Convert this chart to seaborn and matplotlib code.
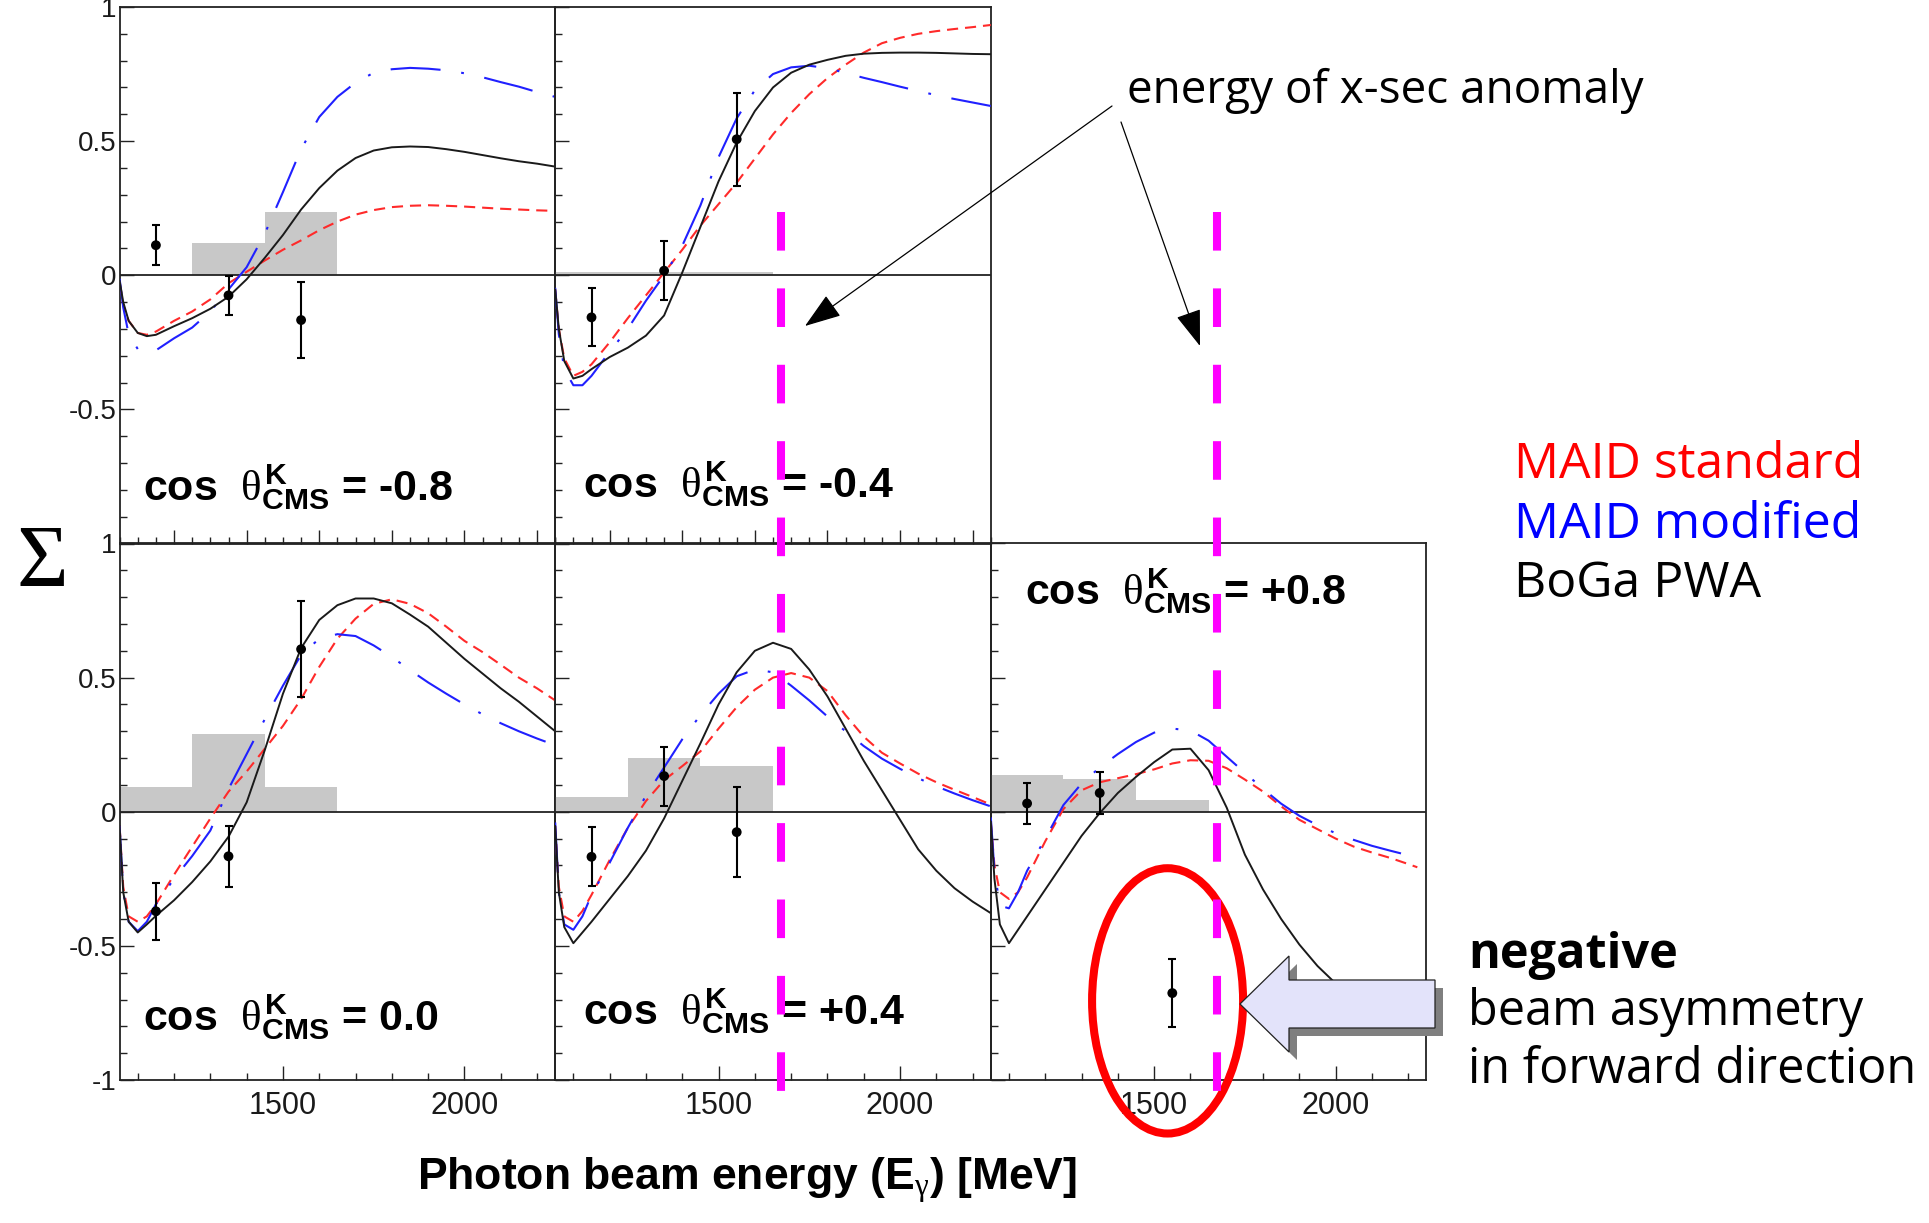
import numpy as np
import pandas as pd
import matplotlib
matplotlib.use("Agg")
import matplotlib.pyplot as plt
import seaborn as sns
import matplotlib.transforms as mtransforms
from matplotlib.patches import Ellipse, Polygon, FancyArrowPatch
from matplotlib.lines import Line2D
from matplotlib.ticker import FixedLocator, FixedFormatter, MultipleLocator

# ---------------- data ----------------
E_GRID = [1050, 1060, 1075, 1100, 1125, 1150, 1200, 1250, 1300, 1350, 1400, 1450, 1500, 1550,
          1600, 1650, 1700, 1750, 1800, 1850, 1900, 1950, 2000, 2050, 2100, 2150, 2200, 2250]

# cos theta = -0.8
BOGA_M08 = [-0.02, -0.10, -0.17, -0.215, -0.227, -0.222, -0.19, -0.16, -0.125, -0.08, -0.015, 0.065, 0.15, 0.245,
            0.325, 0.39, 0.437, 0.465, 0.477, 0.48, 0.478, 0.47, 0.46, 0.448, 0.436, 0.425, 0.416, 0.405]
MAID_STD_M08 = [-0.027, -0.11, -0.17, -0.215, -0.222, -0.21, -0.17, -0.135, -0.09, -0.03, 0.013, 0.055, 0.095, 0.13,
                0.168, 0.2, 0.226, 0.243, 0.254, 0.259, 0.261, 0.259, 0.256, 0.252, 0.248, 0.245, 0.242, 0.24]
MAID_MOD_M08 = [-0.013, -0.12, -0.22, -0.275, -0.288, -0.28, -0.235, -0.195, -0.135, -0.053, 0.03, 0.155, 0.31, 0.47,
                0.59, 0.665, 0.718, 0.755, 0.768, 0.773, 0.77, 0.764, 0.753, 0.738, 0.72, 0.703, 0.683, 0.665]
# cos theta = -0.4
BOGA_M04 = [-0.053, -0.2, -0.32, -0.385, -0.375, -0.35, -0.305, -0.27, -0.225, -0.15, 0.01, 0.18, 0.35, 0.495,
            0.612, 0.7, 0.755, 0.785, 0.803, 0.818, 0.826, 0.829, 0.83, 0.83, 0.829, 0.827, 0.825, 0.824]
MAID_STD_M04 = [-0.053, -0.2, -0.31, -0.375, -0.36, -0.332, -0.25, -0.16, -0.075, 0.01, 0.095, 0.185, 0.265, 0.345,
                0.435, 0.525, 0.605, 0.675, 0.735, 0.785, 0.83, 0.865, 0.885, 0.9, 0.91, 0.918, 0.925, 0.933]
MAID_MOD_M04 = [-0.047, -0.22, -0.35, -0.41, -0.41, -0.375, -0.285, -0.2, -0.095, 0.0, 0.11, 0.26, 0.44, 0.585,
                0.69, 0.75, 0.775, 0.781, 0.772, 0.754, 0.736, 0.72, 0.703, 0.687, 0.671, 0.657, 0.644, 0.631]
# cos theta = 0.0
BOGA_00 = [-0.053, -0.3, -0.41, -0.45, -0.42, -0.388, -0.33, -0.262, -0.185, -0.093, 0.035, 0.23, 0.44, 0.61,
           0.715, 0.77, 0.795, 0.795, 0.777, 0.735, 0.69, 0.63, 0.57, 0.515, 0.46, 0.41, 0.355, 0.3]
MAID_STD_00 = [-0.053, -0.28, -0.39, -0.41, -0.39, -0.345, -0.235, -0.13, -0.025, 0.075, 0.15, 0.235, 0.32, 0.42,
               0.54, 0.645, 0.72, 0.775, 0.792, 0.775, 0.74, 0.69, 0.637, 0.595, 0.548, 0.5, 0.46, 0.415]
MAID_MOD_00 = [-0.053, -0.3, -0.41, -0.445, -0.41, -0.345, -0.25, -0.165, -0.07, 0.085, 0.215, 0.345, 0.47, 0.585,
               0.645, 0.662, 0.655, 0.62, 0.577, 0.528, 0.482, 0.44, 0.4, 0.363, 0.33, 0.3, 0.273, 0.248]
# cos theta = +0.4
BOGA_P04 = [-0.053, -0.3, -0.43, -0.49, -0.45, -0.41, -0.325, -0.24, -0.145, -0.025, 0.115, 0.255, 0.4, 0.52,
            0.6, 0.63, 0.607, 0.53, 0.43, 0.31, 0.19, 0.08, -0.03, -0.14, -0.22, -0.285, -0.335, -0.378]
MAID_STD_P04 = [-0.053, -0.28, -0.39, -0.41, -0.37, -0.31, -0.18, -0.06, 0.04, 0.118, 0.17, 0.225, 0.31, 0.39,
                0.455, 0.5, 0.517, 0.5, 0.45, 0.36, 0.28, 0.22, 0.18, 0.142, 0.11, 0.082, 0.055, 0.027]
MAID_MOD_P04 = [-0.04, -0.3, -0.42, -0.44, -0.39, -0.31, -0.19, -0.06, 0.06, 0.165, 0.27, 0.36, 0.44, 0.505,
                0.53, 0.52, 0.47, 0.415, 0.355, 0.3, 0.245, 0.198, 0.16, 0.125, 0.095, 0.068, 0.043, 0.02]
# cos theta = +0.8
BOGA_P08 = [-0.036, -0.25, -0.42, -0.49, -0.44, -0.39, -0.29, -0.19, -0.09, -0.005, 0.07, 0.13, 0.185, 0.232,
            0.235, 0.155, 0.015, -0.16, -0.29, -0.4, -0.495, -0.575, -0.64, -0.69, -0.73, -0.76, -0.785, -0.8]
E_STD_P08 = [1050, 1060, 1075, 1100, 1125, 1150, 1200, 1250, 1300, 1350, 1400, 1450, 1500, 1550,
             1600, 1650, 1700, 1750, 1800, 1850, 1900, 1950, 2000, 2050, 2100, 2150, 2200, 2225]
MAID_STD_P08 = [-0.036, -0.2, -0.3, -0.325, -0.3, -0.245, -0.11, 0.01, 0.08, 0.11, 0.125, 0.14, 0.158, 0.18,
                0.192, 0.19, 0.162, 0.12, 0.075, 0.02, -0.03, -0.065, -0.1, -0.13, -0.152, -0.172, -0.195, -0.207]
E_MOD_P08 = [1050, 1060, 1075, 1100, 1125, 1150, 1200, 1250, 1300, 1350, 1400, 1450, 1500, 1550,
             1600, 1650, 1700, 1750, 1800, 1850, 1900, 1950, 2000, 2050, 2100, 2150, 2185]
MAID_MOD_P08 = [-0.021, -0.22, -0.35, -0.36, -0.3, -0.22, -0.1, 0.025, 0.105, 0.165, 0.215, 0.26, 0.295, 0.31,
                0.303, 0.265, 0.205, 0.145, 0.085, 0.03, -0.015, -0.05, -0.08, -0.105, -0.127, -0.145, -0.157]

# measured beam asymmetry
E_POINTS = [1150, 1350, 1550]
SIGMA_M08 = [0.112, -0.075, -0.167]; ERR_M08 = [0.075, 0.074, 0.14]
SIGMA_M04 = [-0.157, 0.017, 0.507]; ERR_M04 = [0.108, 0.11, 0.173]
SIGMA_00 = [-0.371, -0.166, 0.606]; ERR_00 = [0.106, 0.113, 0.18]
SIGMA_P04 = [-0.168, 0.133, -0.076]; ERR_P04 = [0.11, 0.11, 0.168]
SIGMA_P08 = [0.031, 0.07, -0.676]; ERR_P08 = [0.076, 0.077, 0.126]

# systematic error bands (grey histograms)
SYST_EDGES = [1050, 1250, 1450, 1650]
SYST_M08 = [0.0, 0.12, 0.235]
SYST_M04 = [0.012, 0.012, 0.012]
SYST_00 = [0.093, 0.289, 0.093]
SYST_P04 = [0.056, 0.199, 0.172]
SYST_P08 = [0.136, 0.121, 0.043]

COS_LABELS = ["-0.8", "-0.4", "0.0", "+0.4", "+0.8"]
X_TICK_LABELS = ["1500", "2000"]
Y_TICK_VALUES = [-1, -0.5, 0, 0.5, 1]
Y_TICK_LABELS = ["-1", "-0.5", "0", "0.5", "1"]
ANOMALY_E = 1672
LEGEND_NAMES = ["MAID standard", "MAID modified", "BoGa PWA"]

# ---------------- style ----------------
sns.set_theme(style="white")
plt.rcParams["font.family"] = ["Liberation Sans", "DejaVu Sans"]
plt.rcParams["text.color"] = "black"
plt.rcParams["mathtext.fontset"] = "custom"
plt.rcParams["mathtext.rm"] = "Liberation Sans"
plt.rcParams["mathtext.it"] = "Liberation Serif"
plt.rcParams["mathtext.bf"] = "Liberation Sans:bold"
plt.rcParams["lines.scale_dashes"] = False
plt.rcParams["axes.unicode_minus"] = False

W_PX, H_PX = 1929, 1223
fig = plt.figure(figsize=(W_PX / 100, H_PX / 100), dpi=100)
fig.patch.set_facecolor("white")

def fx(px):
    return px / W_PX

def fy(py):
    return 1 - py / H_PX

LEFT0, PW, TOP0, PH = 119.6, 435.6, 7.0, 536.5

RED = "#ff2a2a"
BLUE = "#2020ff"
BLACK = "#1a1a1a"
GREY = "#c8c8c8"

panels = [
    dict(row=0, col=0, boga=BOGA_M08, std=MAID_STD_M08, mod=MAID_MOD_M08, e_std=E_GRID, e_mod=E_GRID,
         sig=SIGMA_M08, err=ERR_M08, syst=SYST_M08, lab=COS_LABELS[0], lpos=(0.054, 0.080)),
    dict(row=0, col=1, boga=BOGA_M04, std=MAID_STD_M04, mod=MAID_MOD_M04, e_std=E_GRID, e_mod=E_GRID,
         sig=SIGMA_M04, err=ERR_M04, syst=SYST_M04, lab=COS_LABELS[1], lpos=(0.0645, 0.085)),
    dict(row=1, col=0, boga=BOGA_00, std=MAID_STD_00, mod=MAID_MOD_00, e_std=E_GRID, e_mod=E_GRID,
         sig=SIGMA_00, err=ERR_00, syst=SYST_00, lab=COS_LABELS[2], lpos=(0.0535, 0.093)),
    dict(row=1, col=1, boga=BOGA_P04, std=MAID_STD_P04, mod=MAID_MOD_P04, e_std=E_GRID, e_mod=E_GRID,
         sig=SIGMA_P04, err=ERR_P04, syst=SYST_P04, lab=COS_LABELS[3], lpos=(0.0645, 0.103)),
    dict(row=1, col=2, boga=BOGA_P08, std=MAID_STD_P08, mod=MAID_MOD_P08, e_std=E_STD_P08, e_mod=E_MOD_P08,
         sig=SIGMA_P08, err=ERR_P08, syst=SYST_P08, lab=COS_LABELS[4], lpos=(0.0785, 0.886)),
]

axes = {}
centers = [(SYST_EDGES[i] + SYST_EDGES[i + 1]) / 2 for i in range(len(SYST_EDGES) - 1)]
for p in panels:
    left = LEFT0 + p["col"] * PW
    top = TOP0 + p["row"] * PH
    ax = fig.add_axes([fx(left), fy(top + PH), PW / W_PX, PH / H_PX])
    ax.set_facecolor("none")
    axes[(p["row"], p["col"])] = ax

    sns.histplot(x=centers, weights=p["syst"], bins=SYST_EDGES, ax=ax, color=GREY, alpha=1,
                 edgecolor="none", linewidth=0, zorder=1)
    ax.axhline(0, color="#222222", lw=1.3, zorder=2)

    sns.lineplot(x=p["e_std"], y=p["std"], ax=ax, color=RED, linewidth=1.5, estimator=None, sort=False,
                 linestyle=(0, (8, 5)), zorder=3, legend=False)
    sns.lineplot(x=p["e_mod"], y=p["mod"], ax=ax, color=BLUE, linewidth=1.5, estimator=None, sort=False,
                 linestyle=(0, (36, 15, 2, 15)), zorder=3, legend=False)
    sns.lineplot(x=E_GRID, y=p["boga"], ax=ax, color=BLACK, linewidth=1.4, estimator=None, sort=False,
                 zorder=3, legend=False)

    ax.errorbar(E_POINTS, p["sig"], yerr=p["err"], fmt="none", ecolor="black", elinewidth=1.5,
                capsize=3, capthick=1.5, zorder=4)
    sns.scatterplot(x=E_POINTS, y=p["sig"], ax=ax, color="black", s=50, edgecolor="none", zorder=5,
                    legend=False)

    ax.set_xlim(1050, 2250)
    ax.set_ylim(-1, 1)
    ax.set_xlabel("")
    ax.set_ylabel("")

    for s in ax.spines.values():
        s.set_color("#222222")
        s.set_linewidth(1.3)
        s.set_visible(True)

    # y ticks
    ax.yaxis.set_major_locator(FixedLocator(Y_TICK_VALUES))
    ax.yaxis.set_minor_locator(MultipleLocator(0.1))
    if p["col"] == 0:
        labs = list(Y_TICK_LABELS)
        if p["row"] == 0:
            labs[0] = ""
        ax.yaxis.set_major_formatter(FixedFormatter(labs))
    else:
        ax.yaxis.set_major_formatter(FixedFormatter([""] * len(Y_TICK_VALUES)))
    ax.tick_params(axis="y", which="both", direction="in", left=True, right=False, pad=2,
                   labelsize=20, labelcolor="#1a1a1a", width=1.0, color="#222222")
    ax.tick_params(axis="y", which="major", length=10)
    ax.tick_params(axis="y", which="minor", length=5)

    # x ticks
    if p["row"] == 0:
        ax.xaxis.set_major_locator(MultipleLocator(200))
        ax.xaxis.set_major_formatter(FixedFormatter([]))
        ax.xaxis.set_minor_locator(MultipleLocator(50))
        ax.tick_params(axis="x", labelbottom=False)
    else:
        ax.xaxis.set_major_locator(FixedLocator([1500, 2000]))
        ax.xaxis.set_major_formatter(FixedFormatter(X_TICK_LABELS))
        ax.xaxis.set_minor_locator(MultipleLocator(100))
    ax.tick_params(axis="x", which="both", direction="in", bottom=True, top=False, pad=8,
                   labelsize=22, labelcolor="#1a1a1a", width=1.0, color="#222222")
    ax.tick_params(axis="x", which="major", length=10)
    ax.tick_params(axis="x", which="minor", length=5)
    ax.grid(False)

    ax.text(p["lpos"][0], p["lpos"][1],
            r"cos  $\theta^{\mathbf{K}}_{\mathbf{CMS}}$ = " + p["lab"],
            transform=ax.transAxes, fontsize=31, fontweight="bold", family="Liberation Sans",
            color="black", ha="left", va="baseline", zorder=6)

# ---------------- annotations ----------------
# y-axis symbol and x-axis title
fig.text(fx(42), fy(564), "\u03a3", fontsize=64, family="Liberation Serif", ha="center", va="center",
         color="black")
fig.text(fx(747), fy(1190), r"Photon beam energy (E$_{\gamma}$) [MeV]", fontsize=32, fontweight="bold",
         family="Liberation Sans", ha="center", va="baseline", color="black")

# vertical dashed lines marking the anomaly energy
for key in [(0, 1), (1, 2)]:
    tr = mtransforms.blended_transform_factory(axes[key].transData, fig.transFigure)
    ln = Line2D([ANOMALY_E, ANOMALY_E], [fy(212), fy(1096)], transform=tr, color="#ff00ff",
                lw=5.8, linestyle=(0, (27.8, 27.2)), zorder=20)
    fig.add_artist(ln)

# text + thin arrows
fig.text(fx(1127), fy(102.6), "energy of x-sec anomaly", fontsize=33, family="Open Sans",
         ha="left", va="baseline", color="black")
for tail, head in [((1112, 106), (805, 326)), ((1121, 122), (1200, 346))]:
    arr = FancyArrowPatch(posA=(fx(tail[0]), fy(tail[1])), posB=(fx(head[0]), fy(head[1])),
                          transform=fig.transFigure, arrowstyle="-|>,head_length=2.3,head_width=0.8",
                          mutation_scale=10, lw=0.9, color="black", shrinkA=0, shrinkB=0, zorder=21)
    fig.add_artist(arr)

# model legend
for name, col, base in zip(LEGEND_NAMES, ["#ff0000", "#0000ff", "black"], [478, 538, 597]):
    fig.text(fx(1514), fy(base), name, color=col, fontsize=36, family="Open Sans",
             ha="left", va="baseline")

# "negative beam asymmetry" note
fig.text(fx(1468), fy(968), "negative", fontsize=35, fontweight="bold", family="Open Sans",
         ha="left", va="baseline", color="black")
fig.text(fx(1468), fy(1025), "beam asymmetry", fontsize=35, family="Open Sans", ha="left",
         va="baseline", color="black")
fig.text(fx(1468), fy(1083), "in forward direction", fontsize=35, family="Open Sans", ha="left",
         va="baseline", color="black")

# red ellipse around the forward point
ax_br = axes[(1, 2)]
ax_br.add_patch(Ellipse((1537, -0.705), width=416, height=0.989, fill=False, edgecolor="#ff0000",
                        lw=5.8, clip_on=False, zorder=10))

# big block arrow with shadow
arrow_px = [(1240, 1004), (1289, 956), (1289, 980), (1435, 980), (1435, 1028), (1289, 1028), (1289, 1052)]
shadow = Polygon([(fx(x + 8), fy(y + 8)) for x, y in arrow_px], closed=True, transform=fig.transFigure,
                 facecolor="#7f7f7f", edgecolor="none", zorder=22)
block = Polygon([(fx(x), fy(y)) for x, y in arrow_px], closed=True, transform=fig.transFigure,
                facecolor="#e3e3fa", edgecolor="#222222", lw=0.9, zorder=23)
fig.add_artist(shadow)
fig.add_artist(block)

fig.savefig("out.png", dpi=100, facecolor="white")
